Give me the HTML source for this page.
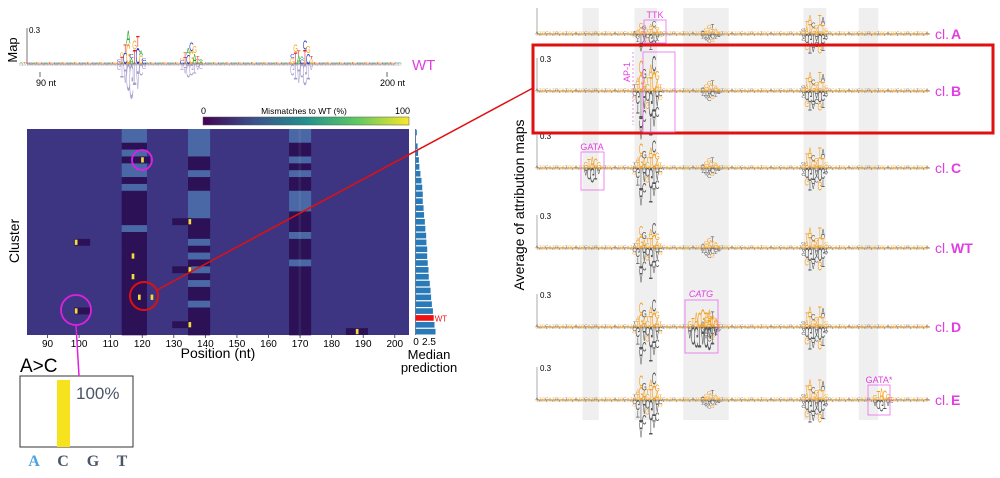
<!DOCTYPE html>
<html><head><meta charset="utf-8">
<style>
html,body{margin:0;padding:0;background:#fff;}
body{width:1000px;height:478px;overflow:hidden;position:relative;font-family:"Liberation Sans",sans-serif;}
svg{position:absolute;left:0;top:0;}
</style></head>
<body>
<svg id="fig" width="1000" height="478" viewBox="0 0 1000 478" xmlns="http://www.w3.org/2000/svg" font-family="Liberation Sans, sans-serif">
  <defs>
    <linearGradient id="viridis" x1="0" x2="1" y1="0" y2="0">
      <stop offset="0" stop-color="#440154"/><stop offset="0.25" stop-color="#3b528b"/>
      <stop offset="0.5" stop-color="#21918c"/><stop offset="0.75" stop-color="#5ec962"/>
      <stop offset="1" stop-color="#fde725"/>
    </linearGradient>
  </defs>
  <g id="shades"></g>
  <g id="heat"></g>
  <g id="bars"></g>
  <g id="toplogo"></g>
  <g id="tracks"></g>

  <text transform="translate(17,50) rotate(-90)" text-anchor="middle" font-size="13">Map</text>
  <line x1="27" y1="28" x2="27" y2="64" stroke="#555" stroke-width="0.8"/>
  <text x="29" y="33" font-size="8">0.3</text>
  <line x1="40" y1="72" x2="40" y2="77" stroke="#444" stroke-width="0.8"/>
  <text x="36" y="86" font-size="9">90 nt</text>
  <line x1="387" y1="72" x2="387" y2="77" stroke="#444" stroke-width="0.8"/>
  <text x="380" y="86" font-size="9">200 nt</text>
  <text x="412" y="70" font-size="15" fill="#e23de2">WT</text>

  <rect x="203" y="117" width="206" height="8" fill="url(#viridis)" stroke="#555" stroke-width="0.5"/>
  <text x="201" y="114" font-size="9">0</text>
  <text x="304" y="114" font-size="8.5" text-anchor="middle">Mismatches to WT (%)</text>
  <text x="410" y="114" font-size="9" text-anchor="end">100</text>

  <text transform="translate(19,241) rotate(-90)" text-anchor="middle" font-size="14">Cluster</text>
  <g id="xticks"></g>
  <text x="218" y="358" font-size="14" text-anchor="middle">Position (nt)</text>
  <text x="416" y="345" font-size="10" text-anchor="middle">0</text>
  <text x="429" y="345" font-size="10" text-anchor="middle">2.5</text>
  <text x="429" y="359" font-size="13" text-anchor="middle">Median</text>
  <text x="429" y="372" font-size="13" text-anchor="middle">prediction</text>

  <text transform="translate(524,205) rotate(-90)" text-anchor="middle" font-size="14">Average of attribution maps</text>

  <text x="20" y="372" font-size="19">A&gt;C</text>
  <rect x="20" y="376" width="113" height="71" fill="#fff" stroke="#333" stroke-width="1"/>
  <rect x="57" y="380" width="13" height="67" fill="#f7e21e"/>
  <text x="76" y="399" font-size="17" fill="#4a5568">100%</text>
  <g font-family="Liberation Serif, serif" font-weight="bold" font-size="16" text-anchor="middle">
    <text x="34" y="466" fill="#4aa3e0">A</text>
    <text x="63" y="466" fill="#4a5568">C</text>
    <text x="93" y="466" fill="#4a5568">G</text>
    <text x="122" y="466" fill="#4a5568">T</text>
  </g>
  <line x1="76" y1="325" x2="79" y2="376" stroke="#e020e0" stroke-width="1.5"/>

  <circle cx="142" cy="160" r="10" fill="none" stroke="#e020e0" stroke-width="1.8"/>
  <circle cx="144" cy="296" r="14" fill="none" stroke="#e01010" stroke-width="2"/>
  <circle cx="76" cy="310" r="15" fill="none" stroke="#e020e0" stroke-width="1.8"/>
  <line x1="157" y1="290" x2="533" y2="88" stroke="#e01010" stroke-width="1.5"/>
  <rect x="533" y="45" width="460" height="88" fill="none" stroke="#e01010" stroke-width="3"/>

  <g id="annot" fill="none" stroke="#e86be8" stroke-width="0.8" font-size="9">
    <rect x="644" y="20" width="22" height="23"/>
    <text x="655" y="18" fill="#e23de2" stroke="none" text-anchor="middle">TTK</text>
    <rect x="643" y="52" width="32" height="80"/>
    <line x1="633" y1="52" x2="633" y2="125" stroke-dasharray="2,2"/>
    <text transform="translate(630,72) rotate(-90)" fill="#e23de2" stroke="none" text-anchor="middle">AP-1</text>
    <rect x="581" y="152" width="23" height="38"/>
    <text x="592" y="150" fill="#e23de2" stroke="none" text-anchor="middle">GATA</text>
    <rect x="685" y="300" width="33" height="53"/>
    <text x="701" y="297" fill="#e23de2" stroke="none" text-anchor="middle" font-style="italic">CATG</text>
    <rect x="868" y="385" width="22" height="30"/>
    <text x="879" y="383" fill="#e23de2" stroke="none" text-anchor="middle">GATA*</text>
  </g>
</svg>
<script>
const heatStart = 84, heatEnd = 204;
const heatRows = 30;
const bandAPos = [114,121];
const bandBPos = [135,141];
const bandCPos = [167,173];
const bandACodes = "lldldlldldddddlddddddddddddddd";
const bandBCodes = "llllddlddlllldddldldldlddldddd";
const bandCCodes = "llddldlddllldddldddldddddddddd";
const darkSegRows = [4,13,16,20,26,28,29];
const darkSegStart = [118,130,99,130,99,130,185];
const darkSegEnd = [122,135,103,135,103,139,191];
const yellowRows = [4,13,16,18,20,21,24,24,26,28,29];
const yellowPos = [120,135,99,117,135,117,119,123,99,135,188];
const xTickVals = [90,100,110,120,130,140,150,160,170,180,190,200];
const medianVals = [0.25,0.1,0.4,0.5,0.65,0.75,0.95,1.15,1.3,1.4,1.4,1.55,1.65,1.8,1.9,2.05,2.1,2.25,2.25,2.35,2.5,2.55,2.75,2.9,3.0,3.15,3.35,3.5,3.65,3.85];
const wtRow = 27;
const topPos = [115,116,117,118,119,120,121,122,123,135,136,137,138,139,140,141,170,171,172,173,174,175,176];
const topSeq = "GTCGATCGCCTCGATAGTACTCG";
const topUp = [4,12,20,34,10,24,28,14,6,6,12,16,22,18,8,5,10,20,14,8,24,18,8];
const topDown = [6,14,20,28,36,22,26,12,5,6,10,14,12,10,6,5,12,16,20,14,22,16,6];
const trackNames = ["A","B","C","WT","D","E"];
const trackBase = [34,91,168,248,327,400];
const peakPos = [114,115,116,117,118,119,120,121,122,135,136,137,138,139,140,166,167,168,169,170,171,172,173];
const peakSeq = "ATGACTCATGCATGTGATGACTC";
const wtUp = [3,6,14,10,6,12,16,9,3,4,7,10,11,6,3,4,9,13,8,6,13,12,4];
const wtDown = [4,10,22,14,8,20,16,12,4,5,8,10,9,6,3,5,11,14,13,9,14,12,4];
const regionScaleA = [0.5,0.55,0.9];
const regionScaleB = [1.4,0.6,0.9];
const regionScaleC = [1.1,0.6,1.0];
const regionScaleWT = [1,0.65,1];
const regionScaleD = [1.1,0.9,1.0];
const regionScaleE = [1.1,0.55,1.0];
const extraCPos = [99,100,101,102,103];
const extraCUp = [6,9,12,10,6];
const extraCDown = [8,12,15,12,6];
const extraDPos = [131,132,133,134,135,136,137,138,139];
const extraDUp = [6,9,15,15,18,15,18,12,6];
const extraDDown = [12,18,21,21,18,21,24,18,9];
const extraEPos = [188,189,190,191,192,193];
const extraEUp = [5,9,12,10,6,3];
const extraEDown = [6,9,12,9,6,3];
const shadeStartNt = [98,114,129,166,183];
const shadeEndNt = [103,121,143,173,189];
const trackGain = 1.6;

const NS = "http://www.w3.org/2000/svg";
function mk(tag, attrs, parent){ const e=document.createElementNS(NS,tag); for(const k in attrs) e.setAttribute(k,attrs[k]); parent.appendChild(e); return e; }

const hx0 = 27, hx1 = 409, hy0 = 129, hy1 = 335;
const cellW = (hx1-hx0)/(heatEnd-heatStart+1);
const cellH = (hy1-hy0)/heatRows;
function hx(p){ return hx0 + (p-heatStart)*cellW; }
function hy(r){ return hy0 + r*cellH; }
const levelColor = {b:"#3d3582", d:"#2c1156", l:"#4a68a6", y:"#f6dc3a"};

const heat = document.getElementById("heat");
const bg = mk("rect",{x:hx0,y:hy0,width:hx1-hx0,height:hy1-hy0,fill:levelColor.b},heat);


function band(pos, codes, nm){
  for(let r=0;r<heatRows;r++){
    const c = codes[r];
    if(c==='b') continue;
    const e = mk("rect",{x:hx(pos[0]),y:hy(r),width:(pos[1]-pos[0]+1)*cellW,height:cellH+0.3,fill:levelColor[c]},heat);
    
    
  }
}
band(bandAPos,bandACodes,'band-a');
band(bandBPos,bandBCodes,'band-b');
band(bandCPos,bandCCodes,'band-c');
for(let r=0;r<heatRows;r++){
  const e = mk("rect",{x:hx(170),y:hy(r),width:cellW*0.8,height:cellH+0.3,fill:bandCCodes[r]==='d'?"#342262":"#5570a8"},heat);
  
  
}
for(let i=0;i<darkSegRows.length;i++){
  const e = mk("rect",{x:hx(darkSegStart[i]),y:hy(darkSegRows[i]),width:(darkSegEnd[i]-darkSegStart[i]+1)*cellW,height:cellH,fill:levelColor.d},heat);
  
  
}
for(let i=0;i<yellowRows.length;i++){
  const e = mk("rect",{x:hx(yellowPos[i])+0.5,y:hy(yellowRows[i])+0.8,width:cellW-0.5,height:cellH-1.6,fill:levelColor.y},heat);
  
  
}
const xt = document.getElementById("xticks");
xTickVals.forEach(v=>{
  const cx = hx(v)+cellW/2;
  const l = mk("line",{x1:cx,y1:hy1,x2:cx,y2:hy1+3,stroke:"#333","stroke-width":0.8},xt);
  
  
  const t = mk("text",{x:cx,y:hy1+12,"font-size":10,"text-anchor":"middle"},xt);
  t.textContent = v;
  
  
});

const bars = document.getElementById("bars");
const bx0 = 415.5, bscale = 13/2.5;
const ax = mk("line",{x1:bx0,y1:hy0,x2:bx0,y2:hy1,stroke:"#333","stroke-width":0.6},bars);


medianVals.forEach((v,r)=>{
  const e = mk("rect",{x:bx0,y:hy(r)+0.7,width:v*bscale,height:cellH-1.2,fill:r===wtRow?"#ee1111":"#2a7ab8"},bars);
  
  
});
const wtl = mk("text",{x:bx0+medianVals[wtRow]*bscale+1,y:hy(wtRow)+cellH,"font-size":8,fill:"#ee1111"},bars);
wtl.textContent="WT";



function letter(g,x,base,h,ch,color,down,op,sx){
  if(h<=0) return;
  const sy = h/7.2;
  const t = mk("text",{x:0,y:0,"font-size":10,"text-anchor":"middle",fill:color,
    transform:`translate(${x.toFixed(1)},${base.toFixed(1)}) scale(${sx||0.6},${(down?-sy:sy).toFixed(3)})`,opacity:op||1},g);
  t.textContent = ch;
  
  
}
const bases="ACGT";
const topG = document.getElementById("toplogo");
function tx(p){ return 40 + (p-90)*3.155; }
const tcol = {A:"#1ea01e",C:"#1f2fd0",G:"#f5a623",T:"#e02020"};
const tb = 64;
const tl = mk("line",{x1:27,y1:tb,x2:395,y2:tb,stroke:"#b0a080","stroke-width":1.2},topG);


for(let p=84;p<=204;p++){
  const ch = bases[(p*7)%4];
  letter(topG,tx(p),tb,2.2,ch,tcol[ch],false,0.8);
  letter(topG,tx(p),tb,1.8,bases[(p*5+1)%4],"#9a8fb0",true,0.7);
}
topPos.forEach((p,i)=>{
  const ch = topSeq[i];
  letter(topG,tx(p),tb,topUp[i]*0.6,ch,tcol[ch],false);
  letter(topG,tx(p),tb-topUp[i]*0.6,topUp[i]*0.4,bases[(i+1)%4],tcol[bases[(i+1)%4]],false);
  letter(topG,tx(p),tb,topDown[i],bases[(i+2)%4],"#8a80c0",true,0.75);
});

const trG = document.getElementById("tracks");
function rx(p){ return 537 + (p-84)*3.25; }
const shadeG = document.getElementById("shades");
shadeStartNt.forEach((s,i)=>{
  const e = mk("rect",{x:rx(s),y:8,width:(shadeEndNt[i]-s)*3.25,height:412,fill:"#efefef"},shadeG);
  
  
});
const scales = [regionScaleA,regionScaleB,regionScaleC,regionScaleWT,regionScaleD,regionScaleE];
const extras = [null,null,[extraCPos,extraCUp,extraCDown],null,[extraDPos,extraDUp,extraDDown],[extraEPos,extraEUp,extraEDown]];
const ORG="#f5a020", GRY="#555";
trackNames.forEach((nm,ti)=>{
  const b = trackBase[ti];
  const g = mk("g",{},trG);
  
  
  const axl = mk("line",{x1:537,y1:Math.max(8,b-33),x2:537,y2:b,stroke:"#888","stroke-width":0.7},g);
  
  
  if(ti>0){
    const t = mk("text",{x:540,y:b-29,"font-size":8},g);
    t.textContent="0.3";
    
    
  }
  const bl = mk("line",{x1:537,y1:b,x2:930,y2:b,stroke:"#c9a060","stroke-width":1.2},g);
  
  
  for(let p=84;p<=204;p++){
    letter(g,rx(p),b,2.4,bases[(p*3)%4],(p%3)?ORG:GRY,false,0.85,0.5);
    letter(g,rx(p),b,2.0,bases[(p*5)%4],(p%2)?GRY:ORG,true,0.8,0.5);
  }
  const sc = scales[ti];
  peakPos.forEach((p,i)=>{
    const reg = i<9?0:(i<15?1:2);
    const u = wtUp[i]*sc[reg]*trackGain, d = wtDown[i]*sc[reg]*trackGain;
    letter(g,rx(p),b,u*0.55,peakSeq[i],ORG,false);
    letter(g,rx(p),b-u*0.55,u*0.45,bases[(i+3)%4],(i%3===0)?GRY:ORG,false);
    letter(g,rx(p),b,d*0.6,bases[(i+1)%4],GRY,true);
    letter(g,rx(p),b+d*0.6,d*0.4,bases[(i+2)%4],(i%4===0)?ORG:GRY,true);
  });
  const ex = extras[ti];
  if(ex){
    ex[0].forEach((p,i)=>{
      letter(g,rx(p),b,ex[1][i],bases[(i+2)%4],ORG,false);
      letter(g,rx(p),b,ex[2][i],bases[i%4],GRY,true);
    });
  }
  const lab = mk("text",{x:935,y:b+5,"font-size":14,fill:"#e23de2"},g);
  lab.innerHTML = 'cl.<tspan font-weight="bold" dx="2">'+nm+'</tspan>';
  
  
});
</script>
</body></html>
